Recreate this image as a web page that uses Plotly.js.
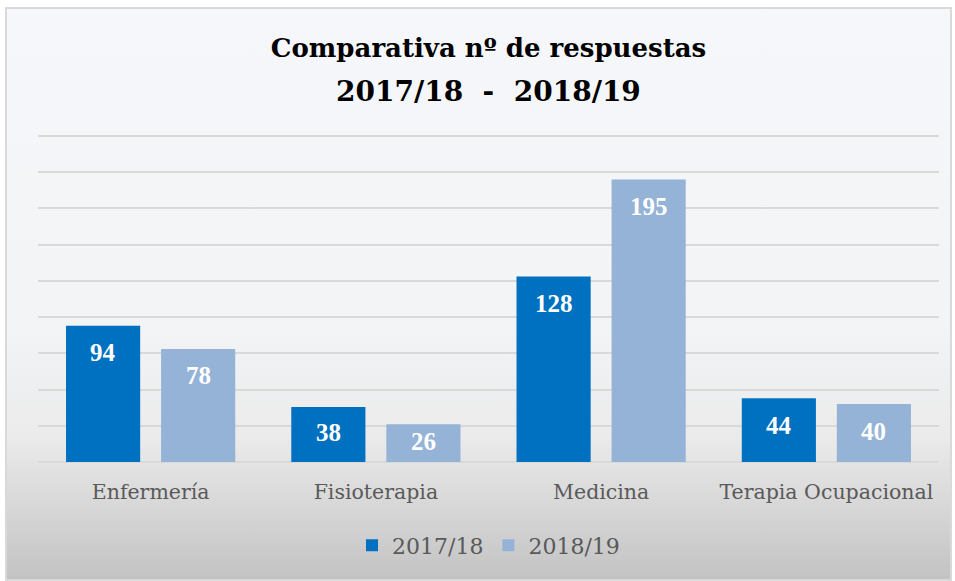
<!DOCTYPE html>
<html>
<head>
<meta charset="utf-8">
<script src="https://cdn.plot.ly/plotly-3.0.1.min.js"></script>
<style>
  html, body { margin:0; padding:0; background:#ffffff; }
  #wrap { position:relative; width:955px; height:581px; overflow:hidden; }
  #frame { position:absolute; left:5px; top:7px; width:943px; height:570px;
           border:2px solid #d9d9d9;
           background: linear-gradient(to bottom, #f5f7fa 0%, #f2f4f6 55%, #ebebeb 75%, #d6d6d6 88%, #c3c3c3 100%); }
  #chart { position:absolute; left:0; top:0; width:955px; height:581px; }
</style>
</head>
<body>
<div id="wrap">
  <div id="frame"></div>
  <div id="chart"></div>
</div>
<script>
const categories = ['Enfermería', 'Fisioterapia', 'Medicina', 'Terapia Ocupacional'];
const series2017 = [94, 38, 128, 44];
const series2018 = [78, 26, 195, 40];
const seriesNames = ['2017/18', '2018/19'];
const seriesColors = ['#0070c0', '#95b3d7'];
const titleLine1 = 'Comparativa nº de respuestas';
const titleLine2 = '2017/18  -  2018/19';

const SERIF = '"DejaVu Serif", "Liberation Serif", serif';
const LABELFONT = '"Liberation Serif", "DejaVu Serif", serif';
const allSeries = [series2017, series2018];

const PLOT_TOP = 135, PLOT_H = 327, YMAX = 225.7;
const pxPerUnit = PLOT_H / YMAX;

const traces = allSeries.map((vals, i) => ({
  type: 'bar',
  name: seriesNames[i],
  x: categories,
  y: vals,
  marker: { color: seriesColors[i] },
  hoverinfo: 'x+y+name'
}));

const annotations = [];
allSeries.forEach((vals, i) => {
  vals.forEach((v, j) => {
    annotations.push({
      x: categories[j], y: v, xref: 'x', yref: 'y',
      text: '<b>' + v + '</b>', showarrow: false,
      xshift: i === 0 ? -47.5 : 47.5,
      yshift: -Math.min(27, v * pxPerUnit / 2 - 2),
      yanchor: 'middle', xanchor: 'center',
      font: { family: LABELFONT, size: 25, color: '#ffffff' }
    });
  });
});
// second title line
annotations.push({
  text: '<b>' + titleLine2.replace(/ /g, '&nbsp;') + '</b>',
  xref: 'paper', yref: 'paper', x: 0.5, y: 0.135,
  xanchor: 'center', yanchor: 'middle', showarrow: false,
  font: { family: SERIF, size: 28, color: '#000000' }
});
annotations[annotations.length - 1].y = 1 + (PLOT_TOP - 91) / PLOT_H;

const layout = {
  width: 955, height: 581,
  paper_bgcolor: 'rgba(0,0,0,0)',
  plot_bgcolor: 'rgba(0,0,0,0)',
  margin: { l: 38, r: 16, t: PLOT_TOP, b: 581 - PLOT_TOP - PLOT_H, pad: 0 },
  title: {
    text: '<b>' + titleLine1 + '</b>',
    font: { family: SERIF, size: 26, color: '#000000' },
    x: 0.5, xanchor: 'center', xref: 'paper',
    y: 1 - 48 / 581, yref: 'container', yanchor: 'middle'
  },
  barmode: 'group',
  bargap: 0.156,
  bargroupgap: 0.22,
  xaxis: {
    type: 'category',
    tickfont: { family: SERIF, size: 20.5, color: '#595959' },
    ticks: '', showline: false, showgrid: false,
    ticklabelstandoff: 15
  },
  yaxis: {
    range: [0, YMAX], dtick: 25, tick0: 0,
    showticklabels: false, ticks: '',
    showgrid: true, gridcolor: '#d9d9d9', gridwidth: 2,
    zeroline: true, zerolinecolor: '#d9d9d9', zerolinewidth: 2,
    fixedrange: true
  },
  showlegend: true,
  legend: {
    orientation: 'h', x: 0.5, xanchor: 'center', xref: 'paper',
    y: -0.255, yanchor: 'middle',
    font: { family: SERIF, size: 22, color: '#595959' },
    bgcolor: 'rgba(0,0,0,0)', traceorder: 'normal'
  },
  annotations: annotations
};

Plotly.newPlot('chart', traces, layout, { displayModeBar: false, staticPlot: true });
</script>
</body>
</html>
